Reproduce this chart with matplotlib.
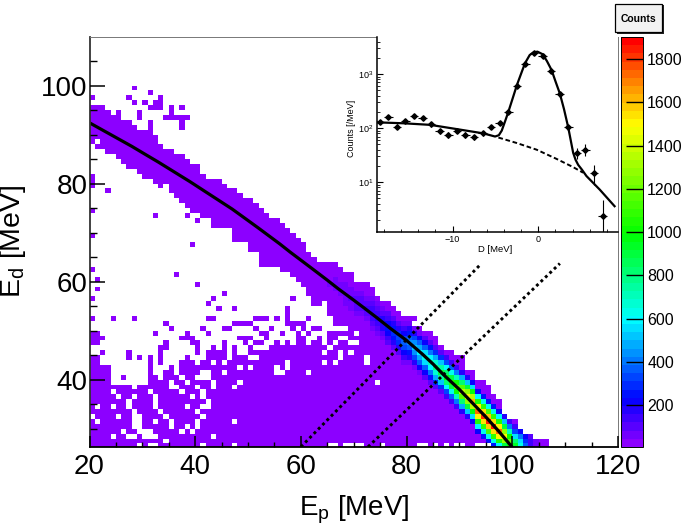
import matplotlib
matplotlib.use("Agg")
import matplotlib.pyplot as plt
import numpy as np
from matplotlib.colors import LinearSegmentedColormap
from matplotlib.patches import Rectangle
from matplotlib.ticker import FixedLocator, LogLocator, NullFormatter, FuncFormatter

plt.rcParams['font.family'] = ['Liberation Sans', 'DejaVu Sans']
plt.rcParams['mathtext.default'] = 'regular'

W, H = 685, 528

# main band: top edge (exclusive) per Ep bin from 20 to 106
band_top = [96, 96, 96, 95, 94, 94, 93, 93, 92, 91, 91, 90, 90, 88, 87, 87, 86, 86, 85, 84, 84, 82,
            81, 81, 81, 80, 79, 79, 78, 77, 77, 76, 75, 74, 73, 73, 72, 71, 70, 69, 68, 66, 65, 64,
            64, 64, 64, 63, 62, 62, 60, 60, 60, 59, 57, 56, 56, 55, 54, 53, 53, 51, 51, 50, 50, 49,
            47, 46, 46, 45, 45, 42, 42, 40, 40, 39, 37, 36, 33, 32, 32, 30, 29, 29, 28, 28, 28]
# lowest bin of the band per Ep bin from 20 to 63
band_low = [88, 87, 87, 86, 86, 85, 84, 83, 83, 82, 81, 81, 80, 80, 80, 78, 77, 76, 75, 74, 74, 73,
            73, 71, 71, 71, 71, 68, 68, 68, 66, 66, 63, 63, 63, 63, 62, 62, 61, 60, 59, 57, 55, 55]

# cells off the band, (Ep bin, Ed bin)
stray_cells = [(28, 99), (31, 98), (20, 97), (27, 97), (33, 97), (28, 96), (30, 96), (32, 96), (33, 96),
               (31, 95), (32, 95), (33, 95), (35, 95), (37, 95), (25, 94), (29, 94), (35, 94), (29, 93),
               (34, 93), (35, 93), (36, 93), (37, 93), (38, 93), (31, 92), (37, 92), (31, 91), (37, 91),
               (31, 90), (20, 81), (20, 80), (20, 79), (33, 79), (23, 78), (20, 74), (32, 73), (38, 73),
               (40, 72), (20, 69), (39, 67), (81, 52)]
empty_in_band = [(21, 88)]

# lower patch, Ed bin -> runs of Ep bins (for Ep up to 63)
low_runs = {
    62: [(20, 20)], 61: [(36, 36)], 60: [(21, 21)], 59: [(40, 40)], 58: [(21, 21)], 57: [(45, 45)],
    56: [(20, 20), (43, 43), (58, 58)], 55: [(42, 42)], 54: [(44, 44), (47, 47), (57, 57)], 53: [(57, 57)],
    52: [(20, 20), (24, 24), (28, 28), (42, 43), (51, 53), (55, 55), (57, 57), (61, 61)],
    51: [(34, 34), (47, 50), (57, 60)],
    50: [(35, 35), (41, 41), (45, 46), (51, 51), (54, 54), (58, 58), (60, 60), (62, 63)],
    49: [(20, 21), (32, 32), (38, 38), (42, 42), (52, 53), (56, 56), (59, 59), (61, 61)],
    48: [(20, 22), (37, 39), (48, 50), (53, 53), (59, 60), (63, 63)],
    47: [(20, 21), (34, 34), (39, 40), (45, 45), (49, 49), (51, 52), (55, 55), (57, 57), (59, 60), (62, 63)],
    46: [(33, 34), (40, 40), (43, 43), (45, 45), (47, 47), (50, 50), (54, 63)],
    45: [(22, 22), (27, 27), (33, 33), (40, 40), (42, 45), (47, 47), (50, 63)],
    44: [(20, 21), (27, 27), (29, 29), (31, 31), (33, 33), (38, 38), (42, 45), (47, 49), (52, 63)],
    43: [(20, 21), (31, 31), (33, 33), (37, 39), (41, 42), (44, 44), (46, 56), (58, 63)],
    42: [(20, 23), (31, 31), (35, 35), (37, 47), (49, 49), (51, 54), (56, 56), (58, 63)],
    41: [(20, 23), (31, 31), (34, 35), (37, 40), (43, 44), (46, 54), (57, 60), (62, 63)],
    40: [(20, 23), (26, 26), (31, 32), (34, 36), (38, 39), (43, 63)],
    39: [(20, 23), (31, 34), (36, 37), (39, 42), (44, 47), (49, 63)],
    38: [(20, 24), (25, 27), (29, 34), (37, 39), (41, 42), (44, 46), (48, 63)],
    37: [(20, 23), (25, 30), (32, 36), (38, 40), (42, 63)],
    36: [(20, 24), (26, 27), (29, 31), (33, 38), (40, 40), (42, 63)],
    35: [(20, 26), (28, 31), (33, 41), (43, 63)],
    34: [(20, 20), (22, 23), (25, 26), (28, 31), (33, 37), (39, 40), (43, 63)],
    33: [(20, 27), (29, 32), (34, 39), (41, 63)],
    32: [(21, 24), (26, 27), (30, 33), (35, 40), (42, 63)],
    31: [(20, 20), (22, 27), (30, 31), (33, 34), (36, 39), (41, 46), (48, 63)],
    30: [(20, 27), (30, 34), (36, 37), (39, 39), (41, 63)],
    29: [(20, 25), (27, 28), (32, 36), (38, 38), (40, 63)],
    28: [(20, 23), (25, 26), (29, 29), (33, 42), (44, 63)],
    27: [(20, 33), (35, 63)],
    26: [(20, 28), (30, 30), (33, 40), (42, 46), (48, 63)],
}

# empty cells below the band for Ep from 64 upward
hole_cells = [(64, 55), (64, 54), (64, 53), (64, 52), (65, 52), (64, 51), (65, 51), (64, 50), (65, 50),
              (66, 50), (67, 50), (68, 50), (64, 49), (64, 48), (64, 47), (70, 49), (67, 48), (68, 48),
              (66, 47), (69, 47), (70, 47), (65, 46), (64, 45), (67, 45), (69, 45), (67, 44), (72, 44),
              (64, 43), (66, 43), (72, 43), (74, 39), (65, 26), (66, 26), (68, 26), (69, 26), (70, 26),
              (71, 26), (75, 26), (82, 26), (83, 26), (85, 26), (87, 26), (89, 26), (90, 26), (93, 26),
              (94, 26), (95, 26)]

# bright ridge: Ep bin, centre Ed bin, counts from centre+4 down to centre-4
ridge_ep = list(range(64, 106))
ridge_ed = [60, 59, 59, 58, 57, 56, 55, 55, 54, 53, 52, 51, 50, 49, 48, 47, 47, 46, 45, 44, 43,
            42, 41, 40, 39, 38, 37, 36, 35, 33, 32, 31, 30, 29, 28, 27, 26, 26, 26, 26, 26, 26]
ridge_counts = [
    [8, 15, 25, 35, 40, 35, 25, 15, 8], [8, 15, 28, 40, 48, 40, 28, 15, 8],
    [10, 18, 32, 48, 55, 48, 32, 18, 10], [10, 20, 38, 55, 65, 55, 38, 20, 10],
    [12, 24, 44, 65, 78, 65, 44, 24, 12], [14, 28, 52, 76, 90, 76, 52, 28, 14],
    [15, 32, 60, 88, 104, 88, 60, 32, 15], [16, 36, 68, 98, 116, 98, 68, 36, 16],
    [18, 42, 78, 110, 130, 110, 78, 42, 18], [20, 48, 85, 125, 148, 125, 85, 48, 20],
    [22, 55, 98, 140, 168, 140, 98, 55, 22], [25, 65, 115, 165, 195, 165, 115, 65, 25],
    [30, 85, 145, 205, 240, 205, 145, 85, 30], [35, 98, 165, 235, 280, 235, 165, 98, 35],
    [42, 112, 190, 272, 320, 272, 190, 112, 42], [50, 135, 230, 325, 385, 325, 230, 135, 50],
    [58, 158, 270, 382, 450, 382, 270, 158, 58], [68, 182, 312, 442, 520, 442, 312, 182, 68],
    [75, 203, 348, 493, 580, 493, 348, 203, 75], [82, 222, 382, 540, 640, 540, 382, 222, 82],
    [91, 245, 420, 595, 700, 595, 420, 245, 91], [102, 275, 470, 668, 790, 668, 470, 275, 102],
    [114, 308, 528, 748, 880, 748, 528, 308, 114], [125, 338, 580, 820, 965, 820, 580, 338, 125],
    [136, 368, 630, 892, 1050, 892, 630, 368, 136], [155, 415, 720, 1020, 1200, 1020, 720, 415, 155],
    [175, 472, 810, 1148, 1350, 1148, 810, 472, 175], [195, 525, 900, 1275, 1500, 1275, 900, 525, 195],
    [208, 560, 960, 1360, 1600, 1360, 960, 560, 208], [228, 612, 1050, 1488, 1750, 1488, 1050, 612, 228],
    [235, 630, 1080, 1530, 1800, 1530, 1080, 630, 235], [240, 648, 1110, 1572, 1850, 1572, 1110, 648, 240],
    [240, 640, 1100, 1560, 1830, 1560, 1100, 640, 240], [228, 612, 1050, 1488, 1750, 1488, 1050, 612, 228],
    [195, 525, 900, 1275, 1500, 1275, 900, 525, 195], [156, 420, 720, 1020, 1200, 1020, 720, 420, 156],
    [124, 332, 570, 808, 950], [85, 228, 390, 552, 650], [45, 122, 210, 298, 350], [20, 52, 90, 128, 150],
    [8, 21, 36, 51, 60], [3, 9, 15, 21, 25],
]

# black kinematic curve and the two dotted cuts
curve_ep = [20, 22, 25, 28, 30.8, 33, 36, 39, 42, 45, 47, 49.7, 52, 54, 56, 58, 61.7, 65, 67, 69.9, 72,
            74.3, 77, 80, 83, 85, 87, 90, 92.5, 95, 97.5, 100]
curve_ed = [92.4, 91.2, 89.4, 87.6, 85.8, 84.4, 82.4, 80.4, 78.3, 76.2, 74.8, 72.7, 70.9, 69.3, 67.7, 66,
            63, 60.3, 58.6, 56.3, 54.6, 52.7, 50.4, 48, 45.2, 43.2, 41, 38, 35.2, 32.4, 29.4, 26.2]
cut1_ep, cut1_ed = [60, 93.8], [26.3, 63.3]
cut2_ep, cut2_ed = [72.7, 109], [26.3, 63.7]

# inset spectrum
d_vals = [-18.5, -17.5, -16.5, -15.5, -14.5, -13.5, -12.5, -11.5, -10.5, -9.5, -8.5, -7.5, -6.5, -5.5,
          -4.5, -3.5, -2.5, -1.5, -0.5, 0.5, 1.5, 2.5, 3.5, 4.5, 5.5, 6.5, 7.5]
d_counts = [132, 159, 107, 134, 171, 155, 118, 87, 75, 90, 75, 68, 81, 105, 123, 203, 605, 1538, 2506,
            2203, 1153, 429, 104, 35, 40, 15, 2.4]
d_err = [11, 12, 10, 11, 13, 12, 11, 9, 9, 9, 9, 8, 9, 10, 11, 14, 25, 39, 50, 47, 34, 21, 10, 8, 10, 6, 2.2]
fit_d = [-18.8, -15.7, -12.6, -9.5, -6.4, -5.04, -4.6, -4.26, -3.9, -3.5, -3, -2.5, -2, -1.55, -1.0, -0.58,
         -0.1, 0.5, 1.0, 1.55, 2, 2.52, 3, 3.49, 4.07, 4.35, 4.65, 5.1, 5.62, 7.17, 8.9]
fit_counts = [128, 123, 115, 96, 80, 70, 74, 90, 130, 198, 350, 622, 1020, 1585, 2250, 2506, 2600, 2333,
              1750, 1190, 740, 435, 225, 104, 35, 26, 21, 17, 13, 7.3, 3.6]
bkg_d = [-4.65, -2.5, -0.2, 2.13, 4.07, 5.23]
bkg_counts = [67, 53, 40, 27, 19, 15]

scale_ticks = [200, 400, 600, 800, 1000, 1200, 1400, 1600, 1800]


def px_axes(left, top, right, bottom):
    return fig.add_axes([left / W, 1 - bottom / H, (right - left) / W, (bottom - top) / H])


# fill the histogram
ep_edges = np.arange(20, 122)
ed_edges = np.arange(26, 112)
counts = np.full((len(ed_edges) - 1, len(ep_edges) - 1), np.nan)
base = 3

for i, top in enumerate(band_top):
    ep = 20 + i
    low = band_low[i] if i < len(band_low) else 26
    counts[low - 26:top - 26, ep - 20] = base
for ep, ed in stray_cells:
    counts[ed - 26, ep - 20] = base
for ed, runs in low_runs.items():
    for first, last in runs:
        counts[ed - 26, first - 20:last - 19] = base
for ep, ed in hole_cells + empty_in_band:
    counts[ed - 26, ep - 20] = np.nan
for ep, ed, vals in zip(ridge_ep, ridge_ed, ridge_counts):
    for k, v in enumerate(vals):
        row = ed + 4 - k - 26
        if row >= 0 and not np.isnan(counts[row, ep - 20]):
            counts[row, ep - 20] = v

stops = [(0, (0.55, 0, 1)), (0.11, (0, 0, 1)), (0.31, (0, 1, 1)), (0.52, (0, 1, 0)),
         (0.79, (1, 1, 0)), (0.87, (1, 0.65, 0)), (1, (1, 0, 0))]
rainbow = LinearSegmentedColormap.from_list("root_rainbow", stops, N=50)

fig = plt.figure(figsize=(6.85, 5.28), dpi=100)

ax = px_axes(89.5, 37, 618, 447)
mesh = ax.pcolormesh(ep_edges, ed_edges, np.ma.masked_invalid(counts), cmap=rainbow, vmin=6, vmax=1902)
ax.plot(curve_ep, curve_ed, color="black", lw=2.3, solid_capstyle="butt")
ax.plot(cut1_ep, cut1_ed, color="black", lw=2.1, ls=(0, (1, 1.1)))
ax.plot(cut2_ep, cut2_ed, color="black", lw=2.1, ls=(0, (1, 1.1)))
ax.set_xlim(20, 120)
ax.set_ylim(26.27, 109.9)
ax.set_xticks([20, 40, 60, 80, 100, 120])
ax.set_yticks([40, 60, 80, 100])
ax.xaxis.set_minor_locator(FixedLocator(np.arange(25, 120, 5)))
ax.yaxis.set_minor_locator(FixedLocator(np.arange(30, 110, 5)))
ax.tick_params(axis="x", which="major", direction="in", length=7.6, width=1.1, labelsize=20, pad=5)
ax.tick_params(axis="x", which="minor", direction="in", length=3.8, width=1)
ax.tick_params(axis="y", which="major", direction="in", length=11, width=1.1, labelsize=20, pad=1.5)
ax.tick_params(axis="y", which="minor", direction="in", length=5.2, width=1)
ax.set_axisbelow(False)
for side in ["left", "bottom"]:
    ax.spines[side].set_linewidth(1.3)
ax.spines["left"].set_color("#333333")
for side in ["top", "right"]:
    ax.spines[side].set_linewidth(0.7)
    ax.spines[side].set_color("#777777")
fig.text(13 / W, 1 - 241 / H, r"$E_{d}$ [MeV]", rotation=90, fontsize=20.5, ha="center", va="center")
fig.text(354 / W, 1 - 510 / H, r"$E_{p}$ [MeV]", fontsize=20, ha="center", va="center")

# inset
ins = px_axes(376.5, 37, 618, 232)
ins.set_yscale("log")
ins.errorbar(d_vals, d_counts, xerr=0.5, yerr=d_err, fmt="D", color="black", ms=2.8, elinewidth=0.8, capsize=0)
ins.plot(fit_d, fit_counts, color="black", lw=1.6)
ins.plot(bkg_d, bkg_counts, color="black", lw=1.4, ls=(0, (2.4, 1.4)))
ins.set_xlim(-18.87, 9.3)
ins.set_ylim(1.2, 4850)
ins.set_xticks([-10, 0])
ins.set_xticklabels(["\u221210", "0"])
ins.xaxis.set_minor_locator(FixedLocator(np.arange(-18, 10, 2)))
ins.yaxis.set_major_locator(FixedLocator([10, 100, 1000]))
ins.yaxis.set_major_formatter(FuncFormatter(lambda v, p: "$10^{%d}$" % round(np.log10(v))))
ins.yaxis.set_minor_locator(LogLocator(base=10, subs=np.arange(2, 10), numticks=12))
ins.yaxis.set_minor_formatter(NullFormatter())
ins.tick_params(axis="both", which="major", direction="in", length=4.2, width=0.8, labelsize=6.5, pad=2.5)
ins.tick_params(axis="both", which="minor", direction="in", length=2.2, width=0.6)
ins.spines["top"].set_visible(False)
ins.spines["right"].set_visible(False)
ins.spines["left"].set_linewidth(1.1)
ins.spines["bottom"].set_linewidth(1.1)
fig.text(495 / W, 1 - 249 / H, "D [MeV]", fontsize=6.8, ha="center", va="center")
fig.text(351 / W, 1 - 128 / H, "Counts [/MeV]", fontsize=6.5, rotation=90, ha="center", va="center")

# palette
cax = px_axes(621, 37, 643, 447)
cbar = fig.colorbar(mesh, cax=cax)
cbar.set_ticks(scale_ticks)
cbar.minorticks_off()
cax.tick_params(axis="y", direction="in", length=12, width=1, labelsize=11.5, pad=3)
cbar.outline.set_linewidth(0.7)

# "Counts" title box with its shadow
fig.add_artist(Rectangle((617 / W, 1 - 34 / H), 47 / W, 29 / H, transform=fig.transFigure,
                         facecolor="#222222", edgecolor="none"))
fig.add_artist(Rectangle((615 / W, 1 - 32 / H), 47 / W, 28 / H, transform=fig.transFigure,
                         facecolor="#f2f2f2", edgecolor="black", lw=0.9))
fig.text(638.5 / W, 1 - 18.5 / H, "Counts", fontsize=7.5, fontweight="bold", ha="center", va="center")

fig.savefig("out.png", dpi=100)
